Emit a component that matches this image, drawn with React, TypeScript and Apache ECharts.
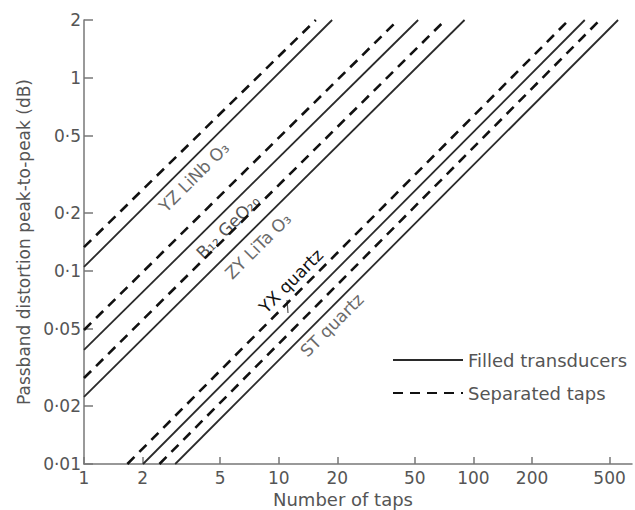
import React, { useEffect, useRef } from "react";
import * as echarts from "echarts";

// Materials (line labels)
const materials = ["YZ LiNb O₃", "B₁₂ GeO₂₀", "ZY LiTa O₃", "YX quartz", "ST quartz"];

// Filled transducers (solid lines): [start, end] number of taps and distortion (dB)
const filledTaps = [[1, 18.8], [1, 52], [1, 90], [2.01, 373], [2.94, 553]];
const filledDistortion = [[0.105, 2], [0.039, 2], [0.0223, 2], [0.01, 2], [0.01, 2]];

// Separated taps (dashed lines)
const separatedTaps = [[1, 15.5], [1, 41], [1, 71.7], [1.67, 309], [2.44, 446]];
const separatedDistortion = [[0.133, 2], [0.0495, 2], [0.0279, 2], [0.01, 2], [0.01, 2]];

// Axis ticks
const xTicks = [1, 2, 5, 10, 20, 50, 100, 200, 500];
const xTickLabels = ["1", "2", "5", "10", "20", "50", "100", "200", "500"];
const yTicks = [0.01, 0.02, 0.05, 0.1, 0.2, 0.5, 1, 2];
const yTickLabels = ["0·01", "0·02", "0·05", "0·1", "0·2", "0·5", "1", "2"];
const xRange = [1, 652];
const yRange = [0.01, 2];

// Label layout (pixel centres) and colours
const labelPos = [[194, 177], [228, 227], [258, 246], [291, 281], [332, 325]];
const labelColor = ["#6a6a6a", "#555", "#6a6a6a", "#111", "#6a6a6a"];

const FONT = "DejaVu Sans";
const lg = (v: number) => Math.log10(v);

function lookup(ticks: number[], labels: string[], v: number) {
  let best = 0;
  let bd = Infinity;
  ticks.forEach((t, i) => {
    const d = Math.abs(lg(t) - v);
    if (d < bd) { bd = d; best = i; }
  });
  return labels[best];
}

export default function App() {
  const ref = useRef<HTMLDivElement>(null);
  useEffect(() => {
    document.body.style.margin = "0";
    if (!ref.current) return;
    const chart = echarts.init(ref.current, null, { renderer: "svg" });

    const series: any[] = [];
    materials.forEach((m, i) => {
      series.push({
        name: "Filled transducers",
        type: "line",
        symbol: "none",
        silent: true,
        data: filledTaps[i].map((x, k) => [lg(x), lg(filledDistortion[i][k])]),
        lineStyle: { color: "#2a2a2a", width: 1.8, type: "solid" },
        itemStyle: { color: "#2a2a2a" },
      });
      series.push({
        name: "Separated taps",
        type: "line",
        symbol: "none",
        silent: true,
        data: separatedTaps[i].map((x, k) => [lg(x), lg(separatedDistortion[i][k])]),
        lineStyle: { color: "#111", width: 2.6, type: [10, 7] },
        itemStyle: { color: "#111" },
      });
    });

    const xt = xTicks.map(lg);
    const yt = yTicks.map(lg);

    chart.setOption({
      animation: false,
      backgroundColor: "#fff",
      grid: { left: 84, right: 3, top: 20, bottom: 46, containLabel: false, outerBoundsMode: "none" },
      legend: {
        data: ["Filled transducers", "Separated taps"],
        orient: "vertical",
        left: 387,
        top: 346,
        itemWidth: 70,
        itemHeight: 14,
        itemGap: 15,
        selectedMode: false,
        itemStyle: { opacity: 0 },
        textStyle: { color: "#555", fontSize: 18, fontFamily: FONT },
      },
      xAxis: {
        type: "value",
        min: lg(xRange[0]),
        max: lg(xRange[1]),
        name: "Number of taps",
        nameLocation: "middle",
        nameGap: 26,
        nameTextStyle: { color: "#555", fontSize: 18, fontFamily: FONT, padding: [0, 30, 0, 0] },
        axisLine: { onZero: false, lineStyle: { color: "#777", width: 1.5 } },
        axisTick: { inside: true, length: 7, customValues: xt, lineStyle: { color: "#777", width: 1.5 } },
        axisLabel: {
          customValues: xt,
          margin: 5,
          color: "#555",
          fontSize: 17,
          fontFamily: FONT,
          formatter: (v: number) => lookup(xTicks, xTickLabels, v),
        },
        splitLine: { show: false },
      },
      yAxis: {
        type: "value",
        min: lg(yRange[0]),
        max: lg(yRange[1]),
        name: "Passband distortion peak-to-peak (dB)",
        nameLocation: "middle",
        nameGap: 52,
        nameTextStyle: { color: "#555", fontSize: 17, fontFamily: FONT },
        axisLine: { onZero: false, lineStyle: { color: "#777", width: 1.5 } },
        axisTick: { inside: true, length: 9, customValues: yt, lineStyle: { color: "#777", width: 1.5 } },
        axisLabel: {
          customValues: yt,
          margin: 3,
          color: "#555",
          fontSize: 17,
          fontFamily: FONT,
          formatter: (v: number) => lookup(yTicks, yTickLabels, v),
        },
        splitLine: { show: false },
      },
      graphic: [
        ...materials.map((m, i) => ({
          type: "text",
          x: labelPos[i][0],
          y: labelPos[i][1],
          rotation: Math.PI / 4,
          silent: true,
          style: {
            text: m,
            fill: labelColor[i],
            fontSize: 17,
            fontFamily: FONT,
            align: "center",
            verticalAlign: "middle",
            textAlign: "center",
            textVerticalAlign: "middle",
          },
        })),
        {
          type: "line",
          silent: true,
          shape: { x1: 287, y1: 300, x2: 288, y2: 313 },
          style: { stroke: "#555", lineWidth: 1.2 },
        },
      ],
      series,
    });
    return () => chart.dispose();
  }, []);
  return <div ref={ref} style={{ width: 635, height: 510 }} />;
}
